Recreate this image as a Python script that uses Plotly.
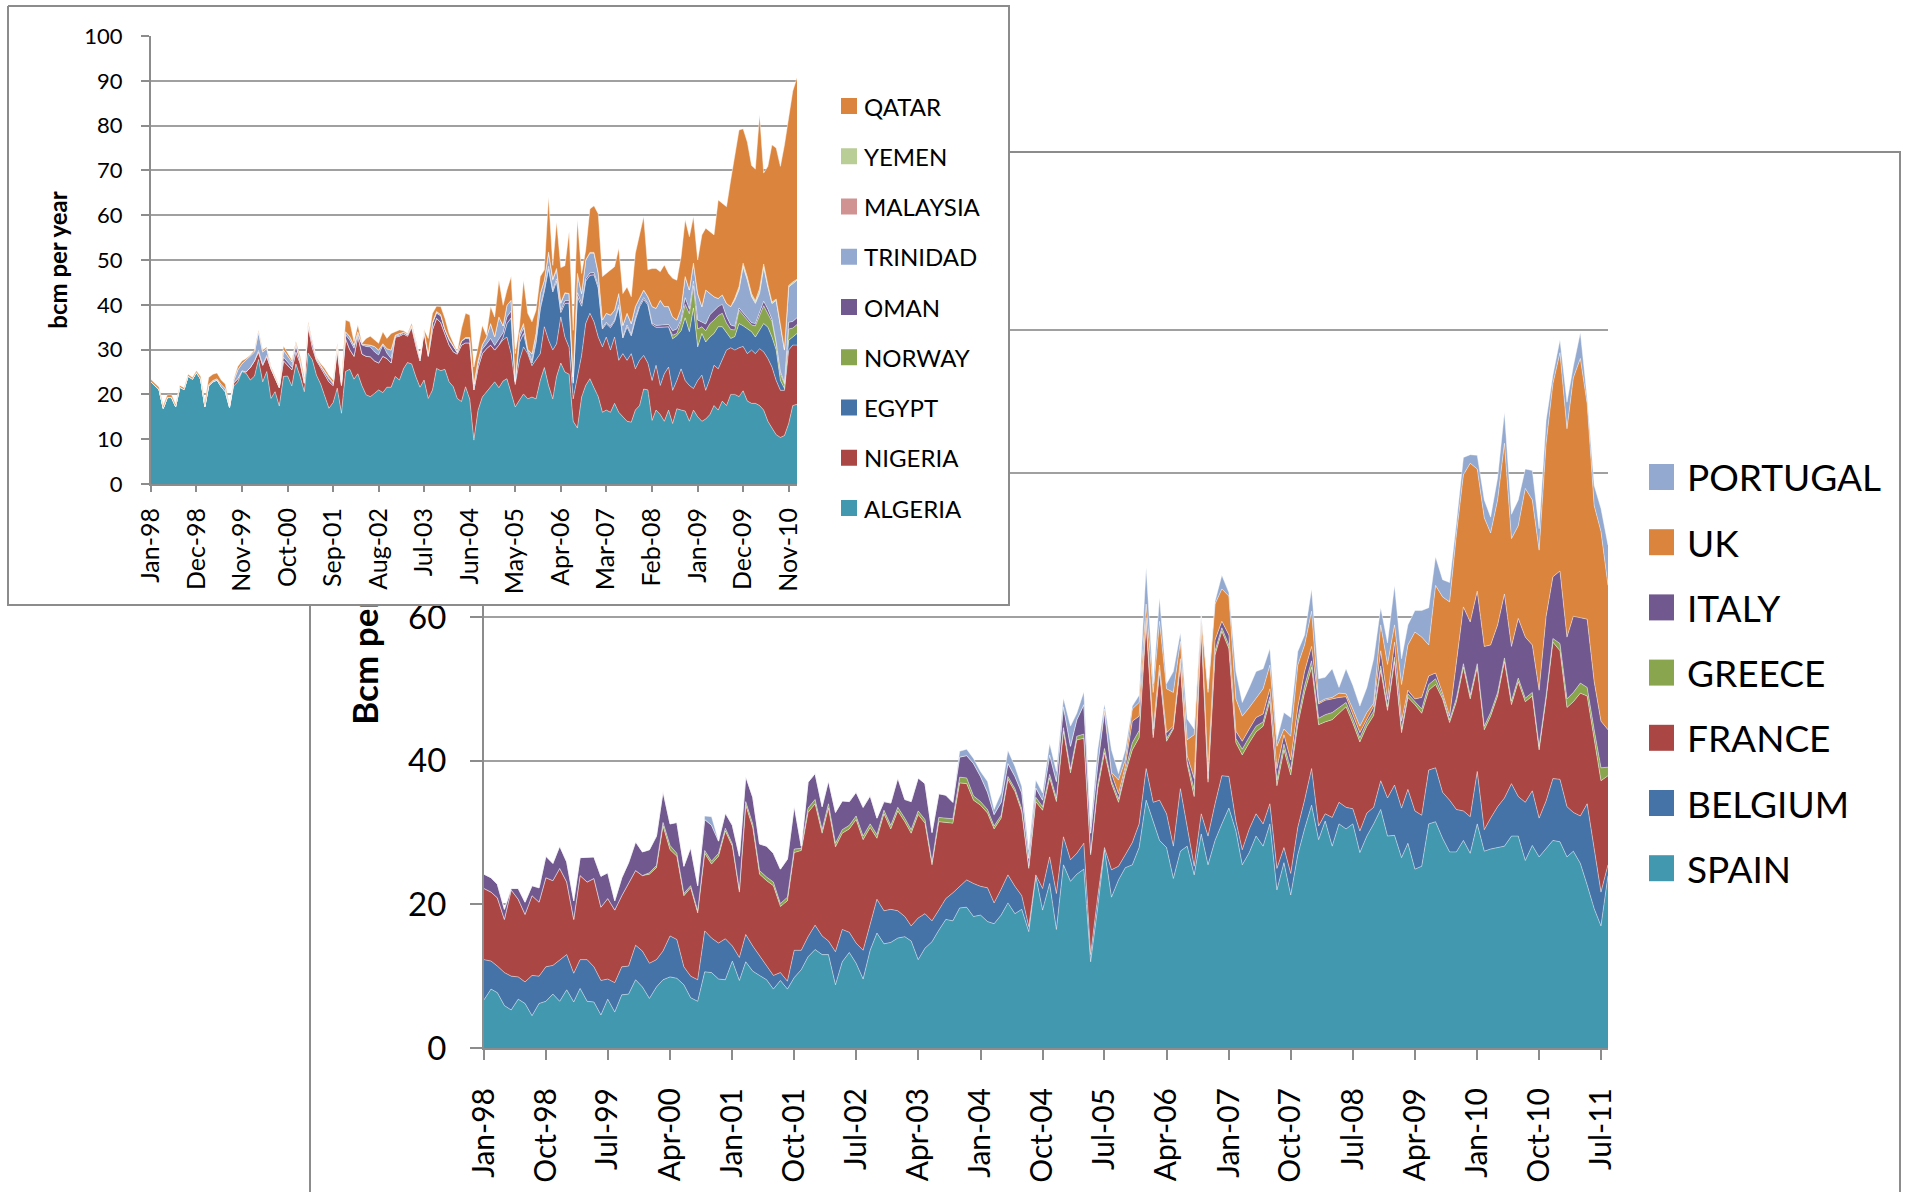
import pandas as pd
import plotly.graph_objects as go

W, H = 1906, 1192

# ---------------------------------------------------------------------------
# Main chart: LNG imports by European country, bcm per year (monthly, Jan-98 .. Aug-11)
# ---------------------------------------------------------------------------
months_eu = pd.date_range("1998-01-01", periods=164, freq="MS")

spain = [6.7, 8.2, 7.7, 5.9, 5.3, 6.8, 6.2, 4.5, 6.2, 6.5,
         7.5, 6.5, 8.1, 6.4, 8.3, 6.5, 6.4, 4.6, 6.8, 5.0,
         7.4, 7.5, 9.5, 8.5, 6.9, 8.5, 9.5, 9.9, 9.7, 8.8,
         7.0, 6.5, 10.6, 10.5, 9.6, 9.5, 12.1, 9.4, 12.0, 10.7,
         10.1, 9.5, 8.2, 9.4, 8.2, 9.8, 10.9, 12.7, 13.7, 13.0,
         13.0, 8.8, 12.0, 13.3, 11.8, 9.6, 13.6, 16.0, 14.5, 14.7,
         15.3, 15.5, 14.9, 12.3, 13.9, 14.8, 16.4, 17.9, 17.7, 19.5,
         19.6, 18.3, 18.5, 17.6, 17.3, 18.5, 20.2, 18.7, 19.3, 16.2,
         23.9, 19.2, 22.9, 16.5, 25.5, 23.2, 24.2, 24.9, 12.0, 19.5,
         27.6, 21.0, 23.4, 25.1, 25.5, 27.9, 34.5, 31.6, 28.9, 27.9,
         23.6, 27.4, 28.1, 24.1, 29.8, 25.5, 28.9, 31.2, 33.4, 30.2,
         25.5, 27.2, 29.5, 28.1, 31.2, 22.0, 25.8, 21.3, 26.9, 30.5,
         33.8, 29.0, 31.6, 28.1, 31.2, 30.5, 31.2, 27.2, 29.5, 31.2,
         33.2, 29.5, 29.6, 26.5, 28.5, 24.9, 25.3, 31.2, 31.5, 29.2,
         27.3, 27.3, 28.9, 27.1, 31.2, 27.4, 27.7, 27.9, 28.1, 29.5,
         29.5, 26.1, 28.2, 26.6, 27.7, 28.9, 28.7, 26.6, 27.4, 25.7,
         22.7, 19.4, 17.0, 24.0]

belgium = [5.6, 3.9, 3.7, 4.6, 4.7, 3.1, 3.0, 5.6, 3.8, 4.8,
           4.0, 5.8, 4.9, 4.0, 4.0, 5.8, 4.9, 4.8, 2.8, 4.1,
           3.9, 3.9, 4.8, 5.0, 4.9, 3.8, 4.0, 5.7, 5.4, 2.5,
           3.0, 3.0, 5.7, 4.8, 5.0, 5.7, 2.1, 3.2, 3.8, 3.5,
           2.7, 1.9, 1.9, 1.1, 1.1, 3.8, 2.7, 2.8, 3.4, 2.6,
           1.9, 4.6, 4.5, 2.8, 2.8, 4.0, 3.5, 4.7, 4.6, 4.6,
           3.8, 2.8, 2.1, 5.8, 4.8, 2.9, 2.8, 2.9, 3.9, 3.0,
           3.8, 4.6, 4.0, 4.7, 2.9, 3.6, 3.9, 3.8, 1.9, 0.7,
           0.2, 3.0, 3.7, 5.0, 3.9, 3.0, 2.9, 3.6, 1.0, 1.5,
           0.3, 3.8, 1.9, 1.8, 3.1, 3.3, 4.4, 2.6, 5.6, 4.7,
           4.5, 8.7, 2.6, 1.2, 2.8, 4.0, 5.1, 6.7, 4.4, 1.4,
           2.1, 3.3, 3.1, 3.1, 2.8, 3.0, 2.1, 3.0, 3.8, 4.0,
           5.1, 1.9, 1.0, 4.0, 3.0, 3.0, 2.1, 3.0, 3.2, 2.3,
           4.0, 5.3, 7.0, 6.9, 7.5, 8.1, 7.1, 7.5, 7.5, 6.4,
           7.2, 5.9, 4.1, 5.1, 7.3, 3.0, 4.3, 5.7, 6.7, 7.3,
           5.5, 8.1, 7.6, 5.4, 6.7, 8.6, 8.7, 7.0, 5.4, 6.6,
           11.3, 8.3, 4.7, 1.5]

france = [9.9, 9.6, 9.5, 7.4, 12.0, 10.8, 9.4, 11.1, 10.3, 12.4,
          11.8, 12.7, 10.1, 7.5, 11.7, 10.8, 12.3, 10.2, 11.2, 10.1,
          9.9, 11.6, 10.4, 10.5, 12.4, 12.8, 17.4, 12.0, 11.6, 9.9,
          12.3, 9.3, 10.8, 10.3, 12.1, 15.0, 13.9, 9.1, 18.0, 16.5,
          11.4, 11.9, 12.5, 9.2, 11.2, 13.6, 13.9, 17.3, 16.9, 14.3,
          18.5, 14.6, 13.4, 14.4, 17.2, 15.4, 13.6, 8.5, 13.5, 11.2,
          13.9, 13.2, 12.9, 14.4, 12.6, 7.8, 12.3, 10.6, 9.7, 14.4,
          13.4, 11.6, 11.3, 10.4, 10.3, 9.9, 13.3, 13.2, 11.7, 8.1,
          10.2, 10.9, 11.0, 12.8, 14.7, 12.1, 15.8, 14.6, 13.9, 15.0,
          13.2, 12.0, 8.9, 11.3, 12.9, 12.0, 20.5, 9.0, 17.9, 10.1,
          16.3, 17.2, 8.8, 9.7, 25.9, 7.5, 20.7, 20.1, 17.8, 10.9,
          13.2, 12.0, 11.4, 13.6, 14.3, 11.5, 13.6, 13.7, 14.3, 15.0,
          14.1, 14.1, 12.8, 13.6, 12.4, 14.0, 11.9, 12.4, 12.1, 12.8,
          15.4, 12.2, 17.2, 10.5, 12.8, 14.8, 14.2, 11.1, 11.6, 13.0,
          10.8, 15.0, 20.0, 16.4, 14.5, 13.9, 14.2, 15.4, 19.0, 11.0,
          16.0, 14.0, 13.2, 9.5, 14.2, 19.0, 17.9, 13.8, 15.4, 17.1,
          15.0, 15.4, 15.5, 12.4]

greece = [0.0, 0.0, 0.0, 0.0, 0.0, 0.0, 0.0, 0.0, 0.0, 0.0,
          0.0, 0.0, 0.0, 0.0, 0.0, 0.0, 0.0, 0.0, 0.0, 0.0,
          0.0, 0.0, 0.0, 0.0, 0.2, 0.3, 0.5, 0.6, 0.4, 0.3,
          0.3, 0.3, 0.4, 0.4, 0.4, 0.4, 0.3, 0.3, 0.5, 0.5,
          0.5, 0.5, 0.5, 0.4, 0.5, 0.5, 0.3, 0.6, 0.6, 0.5,
          0.6, 0.5, 0.5, 0.5, 0.5, 0.5, 0.5, 0.5, 0.5, 0.5,
          0.5, 0.5, 0.5, 0.5, 0.5, 0.4, 0.6, 0.6, 0.6, 0.8,
          0.8, 0.6, 0.5, 0.5, 0.4, 0.4, 0.4, 0.4, 0.4, 0.3,
          0.6, 0.5, 0.5, 0.5, 0.5, 0.5, 0.5, 0.6, 0.3, 0.6,
          0.6, 0.4, 0.5, 0.5, 1.0, 1.0, 0.2, 0.4, 0.3, 0.4,
          0.2, 0.4, 0.4, 1.0, 0.5, 0.5, 0.6, 0.5, 0.5, 0.6,
          0.8, 0.8, 0.8, 0.6, 0.6, 0.8, 0.8, 0.8, 0.8, 0.9,
          0.9, 0.9, 1.0, 1.0, 0.8, 0.6, 0.6, 0.6, 0.6, 0.6,
          0.6, 0.5, 0.6, 0.5, 0.5, 0.5, 0.6, 0.8, 0.8, 0.4,
          0.4, 0.5, 0.5, 0.5, 0.5, 0.5, 0.5, 0.5, 0.5, 0.5,
          0.5, 0.5, 0.5, 0.5, 0.5, 0.5, 1.0, 1.2, 1.3, 1.4,
          1.2, 1.2, 1.8, 1.2]

italy = [2.0, 2.0, 1.9, 1.4, 0.2, 1.5, 1.7, 1.4, 2.0, 3.0,
         2.4, 3.1, 2.8, 2.6, 2.5, 3.4, 3.0, 4.3, 3.6, 1.3,
         2.5, 2.8, 4.0, 3.3, 3.2, 4.1, 4.3, 3.0, 4.3, 3.8,
         5.3, 3.5, 4.3, 5.0, 1.7, 2.1, 2.6, 4.7, 3.5, 3.7,
         3.7, 4.3, 4.0, 4.8, 5.3, 6.0, 0.3, 3.6, 3.6, 3.2,
         3.2, 4.3, 4.0, 3.3, 3.3, 4.0, 3.9, 2.3, 1.2, 3.1,
         4.1, 2.6, 3.9, 4.6, 5.0, 4.1, 3.3, 3.2, 2.3, 2.8,
         3.1, 4.5, 3.5, 2.4, 1.6, 1.8, 1.8, 1.7, 2.2, 1.1,
         1.3, 0.9, 2.7, 2.3, 2.9, 3.2, 2.3, 4.1, 2.7, 2.7,
         5.0, 1.0, 0.7, 0.5, 3.0, 2.0, 0.3, 0.8, 0.6, 0.8,
         0.2, 0.5, 0.8, 1.5, 0.8, 1.0, 1.5, 0.9, 1.4, 1.0,
         1.1, 1.1, 1.2, 1.1, 1.1, 1.6, 1.3, 1.3, 1.6, 2.0,
         2.0, 2.0, 2.0, 1.9, 1.4, 0.8, 0.7, 0.7, 0.4, 0.7,
         2.1, 1.0, 2.1, 1.1, 0.5, 0.3, 1.6, 1.2, 0.8, 0.4,
         0.5, 4.7, 7.9, 10.2, 10.1, 11.1, 9.4, 9.4, 8.9, 7.6,
         8.3, 8.5, 6.6, 7.8, 11.0, 8.6, 10.1, 8.6, 10.6, 9.1,
         9.5, 6.7, 6.5, 5.2]

uk = [0.0, 0.0, 0.0, 0.0, 0.0, 0.0, 0.0, 0.0, 0.0, 0.0,
      0.0, 0.0, 0.0, 0.0, 0.0, 0.0, 0.0, 0.0, 0.0, 0.0,
      0.0, 0.0, 0.0, 0.0, 0.0, 0.0, 0.0, 0.0, 0.0, 0.0,
      0.0, 0.0, 0.0, 0.0, 0.0, 0.0, 0.0, 0.0, 0.0, 0.0,
      0.0, 0.0, 0.0, 0.0, 0.0, 0.0, 0.0, 0.0, 0.0, 0.0,
      0.0, 0.0, 0.0, 0.0, 0.0, 0.0, 0.0, 0.0, 0.0, 0.0,
      0.0, 0.0, 0.0, 0.0, 0.0, 0.0, 0.0, 0.0, 0.0, 0.0,
      0.0, 0.0, 0.0, 0.0, 0.0, 0.0, 0.0, 0.0, 0.0, 0.0,
      0.0, 0.0, 0.0, 0.0, 0.0, 0.0, 0.0, 0.0, 0.0, 0.0,
      0.5, 0.2, 1.9, 0.9, 1.7, 1.9, 1.9, 5.1, 6.1, 6.1,
      4.7, 2.4, 2.2, 6.1, 0.3, 11.0, 5.0, 4.5, 5.4, 4.5,
      3.5, 3.0, 2.6, 3.5, 3.3, 3.1, 0.8, 3.3, 5.9, 3.7,
      4.9, 0.2, 0.2, 0.2, 0.6, 0.4, 0.7, 0.9, 0.9, 0.4,
      3.6, 4.9, 2.4, 5.1, 6.3, 9.3, 8.4, 4.3, 12.2, 13.4,
      15.9, 18.1, 18.4, 22.1, 17.0, 17.9, 15.6, 17.4, 21.0, 15.0,
      12.9, 20.7, 20.2, 19.5, 24.1, 26.9, 30.4, 29.0, 33.2, 36.1,
      30.0, 24.5, 26.4, 20.1]

portugal = [0.0, 0.0, 0.0, 0.0, 0.0, 0.0, 0.0, 0.0, 0.0, 0.0,
            0.0, 0.0, 0.0, 0.0, 0.0, 0.0, 0.0, 0.0, 0.0, 0.0,
            0.0, 0.0, 0.0, 0.0, 0.0, 0.0, 0.0, 0.0, 0.0, 0.0,
            0.0, 0.0, 0.5, 1.2, 0.0, 0.0, 0.0, 0.0, 0.0, 0.0,
            0.0, 0.0, 0.0, 0.0, 0.0, 0.0, 0.0, 0.0, 0.0, 0.0,
            0.0, 0.0, 0.0, 0.0, 0.0, 0.0, 0.0, 0.0, 0.0, 0.0,
            0.0, 0.0, 0.0, 0.0, 0.0, 0.0, 0.0, 0.0, 0.0, 0.8,
            0.9, 0.7, 0.7, 1.5, 0.7, 1.3, 1.8, 1.4, 0.9, 1.2,
            1.1, 1.0, 1.6, 1.4, 1.2, 2.8, 0.9, 1.8, 0.9, 2.2,
            0.7, 3.1, 0.9, 1.4, 0.4, 1.0, 5.1, 1.2, 3.3, 0.7,
            2.9, 1.2, 2.9, 0.8, 0.3, 0.5, 0.4, 1.9, 0.5, 3.8,
            1.9, 2.8, 3.8, 2.8, 2.3, 0.9, 2.3, 2.6, 1.9, 1.4,
            3.1, 3.3, 3.0, 4.0, 0.8, 3.5, 3.3, 2.8, 3.5, 6.2,
            2.4, 3.0, 5.5, 3.6, 2.8, 3.0, 3.7, 5.2, 4.0, 2.4,
            2.7, 1.6, 2.4, 1.2, 1.9, 2.5, 2.2, 3.1, 4.3, 3.4,
            3.6, 2.7, 4.1, 3.0, 3.2, 1.2, 1.8, 3.7, 1.6, 3.6,
            0.8, 2.8, 3.2, 5.6]

# ---------------------------------------------------------------------------
# Inset: LNG supply to Europe by exporting country (monthly, Jan-98 .. Jan-11)
# ---------------------------------------------------------------------------
months_src = pd.date_range("1998-01-01", periods=157, freq="MS")

algeria = [22.8, 21.9, 21.1, 16.9, 19.3, 19.3, 17.3, 21.6, 21.1, 24.1,
           23.4, 24.9, 23.4, 17.3, 21.9, 22.8, 23.2, 21.7, 20.6, 17.1,
           21.9, 22.8, 25.1, 24.7, 23.2, 24.1, 27.8, 22.8, 25.1, 19.1,
           20.6, 17.4, 24.0, 24.1, 21.9, 26.8, 24.0, 20.6, 29.2, 27.7,
           24.3, 22.3, 19.5, 16.9, 18.2, 21.4, 15.8, 25.1, 25.6, 23.4,
           24.6, 21.9, 19.9, 19.5, 20.2, 21.0, 20.4, 21.6, 21.6, 24.0,
           23.2, 25.8, 27.1, 26.8, 24.0, 21.6, 23.2, 19.1, 21.0, 25.8,
           25.3, 25.6, 22.8, 21.7, 19.1, 18.4, 21.7, 18.9, 9.8, 16.5,
           19.4, 20.5, 21.6, 22.8, 21.5, 23.0, 23.5, 20.1, 17.2, 18.7,
           20.1, 19.0, 19.4, 19.0, 23.1, 26.0, 22.0, 19.0, 24.0, 27.0,
           25.0, 24.5, 14.0, 12.5, 19.4, 22.0, 23.5, 21.5, 19.5, 16.0,
           16.5, 16.0, 18.0, 16.0, 15.0, 14.0, 13.8, 16.5, 17.5, 21.2,
           21.0, 14.2, 16.5, 15.5, 14.0, 16.5, 13.5, 16.8, 16.5, 16.3,
           14.0, 16.5, 15.0, 14.0, 14.5, 15.5, 17.5, 16.5, 18.5, 17.5,
           20.0, 20.0, 19.5, 20.8, 18.5, 18.0, 18.0, 17.5, 16.5, 14.0,
           12.5, 11.0, 10.4, 10.8, 13.5, 17.5, 17.8]

nigeria = [0.0, 0.0, 0.0, 0.0, 0.0, 0.0, 0.0, 0.0, 0.0, 0.0,
           0.0, 0.0, 0.0, 0.0, 0.0, 0.0, 0.0, 0.0, 0.0, 0.0,
           0.7, 0.7, 0.2, 0.3, 2.8, 3.4, 1.7, 3.7, 3.4, 6.6,
           2.9, 4.1, 3.5, 2.4, 3.6, 2.7, 3.0, 1.9, 6.0, 2.8,
           3.3, 3.7, 5.0, 5.9, 3.8, 8.6, 6.2, 7.4, 4.4, 5.1,
           8.4, 7.1, 8.6, 8.9, 7.3, 6.0, 8.1, 6.4, 5.4, 8.8,
           9.8, 7.7, 5.9, 8.2, 7.0, 5.9, 10.8, 9.4, 13.5, 11.2,
           10.7, 7.9, 8.2, 7.8, 9.9, 12.6, 9.8, 12.6, 11.2, 9.5,
           9.7, 9.7, 9.4, 7.1, 9.5, 9.2, 9.3, 9.0, 5.0, 8.9,
           10.5, 10.1, 7.0, 8.6, 6.0, 9.1, 10.1, 10.9, 7.3, 10.3,
           7.8, 6.0, 5.0, 11.4, 9.3, 13.8, 14.6, 14.7, 13.3, 14.6,
           16.3, 13.9, 14.8, 11.6, 14.1, 13.6, 15.3, 9.2, 10.1, 7.5,
           6.0, 8.9, 10.0, 6.5, 10.6, 9.6, 7.4, 6.3, 9.2, 6.8,
           8.0, 4.8, 8.1, 10.3, 6.4, 8.0, 9.0, 9.2, 9.1, 12.4,
           10.4, 9.9, 10.9, 9.9, 10.6, 11.9, 11.1, 12.7, 13.0, 14.0,
           13.6, 12.1, 10.5, 10.1, 16.4, 13.5, 13.2]

egypt = [0.0, 0.0, 0.0, 0.0, 0.0, 0.0, 0.0, 0.0, 0.0, 0.0,
         0.0, 0.0, 0.0, 0.0, 0.0, 0.0, 0.0, 0.0, 0.0, 0.0,
         0.0, 0.0, 0.0, 0.0, 0.0, 0.0, 0.0, 0.0, 0.0, 0.0,
         0.0, 0.0, 0.0, 0.0, 0.0, 0.0, 0.0, 0.0, 0.0, 0.0,
         0.0, 0.0, 0.0, 0.0, 0.0, 0.0, 0.0, 0.0, 0.0, 0.0,
         0.0, 0.0, 0.0, 0.0, 0.0, 0.0, 0.0, 0.0, 0.0, 0.0,
         0.0, 0.0, 0.0, 0.0, 0.0, 0.0, 0.0, 0.0, 0.0, 0.0,
         0.0, 0.0, 0.0, 0.0, 0.0, 0.0, 0.0, 0.0, 0.0, 0.0,
         0.0, 0.0, 0.0, 0.0, 0.0, 0.6, 3.0, 8.0, 0.5, 4.0,
         3.0, 0.5, 0.6, 4.0, 10.0, 8.0, 16.0, 13.0, 14.0, 1.0,
         7.5, 9.9, 3.5, 18.0, 11.0, 9.5, 8.5, 10.5, 11.0, 4.0,
         3.0, 5.0, 3.5, 12.0, 3.5, 7.5, 4.0, 11.0, 12.0, 12.5,
         13.0, 12.5, 8.5, 13.0, 10.5, 9.0, 11.5, 10.0, 8.5, 14.0,
         12.0, 18.0, 7.5, 9.3, 10.8, 9.3, 7.1, 9.4, 7.5, 4.0,
         2.1, 3.0, 5.4, 4.6, 5.6, 4.1, 3.7, 4.1, 6.3, 7.0,
         6.7, 6.8, 2.2, 0.4, 2.2, 1.8, 2.6]

norway = [0.0, 0.0, 0.0, 0.0, 0.0, 0.0, 0.0, 0.0, 0.0, 0.0,
          0.0, 0.0, 0.0, 0.0, 0.0, 0.0, 0.0, 0.0, 0.0, 0.0,
          0.0, 0.0, 0.0, 0.0, 0.0, 0.0, 0.0, 0.0, 0.0, 0.0,
          0.0, 0.0, 0.0, 0.0, 0.0, 0.0, 0.0, 0.0, 0.0, 0.0,
          0.0, 0.0, 0.0, 0.0, 0.0, 0.0, 0.0, 0.0, 0.0, 0.0,
          0.0, 0.0, 0.0, 0.0, 0.0, 0.0, 0.0, 0.0, 0.0, 0.0,
          0.0, 0.0, 0.0, 0.0, 0.0, 0.0, 0.0, 0.0, 0.0, 0.0,
          0.0, 0.0, 0.0, 0.0, 0.0, 0.0, 0.0, 0.0, 0.0, 0.0,
          0.0, 0.0, 0.0, 0.0, 0.0, 0.0, 0.0, 0.0, 0.0, 0.0,
          0.0, 0.0, 0.0, 0.0, 0.0, 0.0, 0.0, 0.0, 0.0, 0.0,
          0.0, 0.0, 0.0, 0.0, 0.0, 0.0, 0.0, 0.0, 0.0, 0.0,
          0.0, 0.0, 0.0, 0.0, 0.0, 0.0, 0.0, 0.0, 0.0, 0.0,
          0.0, 0.0, 0.0, 0.0, 0.0, 0.0, 0.8, 0.5, 2.0, 3.0,
          4.0, 5.0, 4.0, 1.5, 2.5, 3.0, 3.0, 2.5, 3.0, 2.0,
          2.0, 1.5, 3.0, 2.5, 2.0, 1.5, 2.5, 3.5, 4.0, 3.0,
          3.5, 1.5, 1.5, 1.0, 2.5, 2.0, 2.0]

oman = [0.0, 0.0, 0.0, 0.0, 0.0, 0.0, 0.0, 0.0, 0.0, 0.0,
        0.0, 0.0, 0.0, 0.0, 0.0, 0.0, 0.0, 0.0, 0.0, 0.0,
        0.0, 0.0, 0.0, 0.0, 0.0, 0.0, 0.3, 0.2, 0.2, 0.0,
        0.0, 0.0, 0.8, 0.8, 0.6, 1.3, 0.3, 0.3, 0.3, 0.9,
        0.2, 0.3, 0.3, 0.6, 0.3, 0.5, 0.4, 0.8, 2.1, 1.8,
        0.3, 2.0, 2.2, 2.2, 2.0, 1.8, 2.5, 1.2, 1.0, 0.2,
        0.2, 0.3, 0.2, 0.2, 0.7, 0.4, 0.2, 0.3, 1.3, 1.1,
        1.5, 0.9, 1.1, 1.1, 0.3, 0.8, 1.0, 0.9, 0.5, 0.8,
        1.0, 1.0, 1.5, 1.0, 1.5, 1.0, 1.5, 1.5, 0.3, 1.0,
        1.2, 0.3, 0.5, 0.5, 0.5, 0.5, 0.5, 0.4, 0.5, 0.5,
        0.6, 0.6, 0.4, 0.8, 0.6, 0.5, 0.5, 0.5, 0.5, 0.3,
        0.3, 0.3, 0.3, 0.4, 0.3, 0.4, 0.3, 0.4, 0.4, 0.4,
        0.3, 0.3, 0.4, 0.5, 0.5, 0.5, 1.0, 1.0, 0.5, 1.5,
        1.0, 1.0, 2.0, 1.0, 1.5, 2.0, 2.0, 2.0, 2.0, 1.5,
        1.0, 0.8, 0.5, 0.5, 0.5, 0.5, 0.5, 0.5, 1.0, 1.0,
        0.5, 0.3, 0.5, 0.3, 1.5, 1.5, 1.5]

trinidad = [0.0, 0.0, 0.0, 0.0, 0.0, 0.0, 0.0, 0.0, 0.0, 0.0,
            0.0, 0.0, 0.0, 0.0, 0.3, 0.3, 0.3, 0.5, 0.7, 0.2,
            0.5, 2.0, 1.6, 2.7, 2.6, 2.0, 4.2, 2.8, 1.6, 0.3,
            0.3, 0.2, 1.6, 1.3, 1.2, 0.6, 0.4, 0.3, 0.2, 0.3,
            0.3, 0.2, 0.3, 0.4, 0.3, 0.4, 0.3, 0.7, 0.8, 0.7,
            0.7, 0.2, 0.4, 0.4, 1.2, 1.1, 0.3, 1.0, 1.9, 0.2,
            0.4, 0.1, 0.2, 0.2, 0.2, 0.2, 0.1, 0.3, 0.3, 0.4,
            0.3, 0.2, 0.3, 0.2, 0.1, 0.1, 0.2, 0.3, 0.8, 0.8,
            1.0, 1.5, 3.3, 2.0, 4.8, 1.5, 2.6, 2.4, 0.1, 1.0,
            1.0, 0.2, 1.5, 1.5, 2.9, 1.9, 2.9, 2.2, 2.0, 1.5,
            1.6, 1.5, 1.0, 4.3, 2.2, 4.2, 4.4, 4.3, 2.7, 1.7,
            2.0, 2.5, 2.2, 2.5, 2.5, 2.6, 2.4, 2.5, 1.4, 1.7,
            1.5, 3.7, 3.8, 5.5, 4.0, 4.0, 3.1, 2.0, 2.5, 4.7,
            4.3, 4.0, 5.9, 3.5, 7.6, 4.7, 3.2, 1.8, 2.1, 2.9,
            4.1, 5.8, 4.0, 10.2, 8.3, 5.8, 4.5, 4.2, 7.7, 5.0,
            3.5, 9.3, 10.0, 7.3, 7.9, 8.5, 8.4]

malaysia = [0.0, 0.0, 0.0, 0.0, 0.0, 0.0, 0.0, 0.0, 0.0, 0.0,
            0.0, 0.0, 0.0, 0.0, 0.0, 0.0, 0.0, 0.0, 0.0, 0.0,
            0.0, 0.0, 0.0, 0.0, 0.0, 0.0, 0.0, 0.0, 0.0, 0.0,
            0.0, 0.0, 0.0, 0.0, 0.0, 0.0, 0.0, 0.0, 0.0, 0.0,
            0.0, 0.0, 0.0, 0.0, 0.0, 0.0, 0.0, 0.0, 0.0, 0.0,
            0.0, 0.0, 0.0, 0.0, 0.0, 0.0, 0.0, 0.0, 0.0, 0.0,
            0.0, 0.0, 0.0, 0.0, 0.0, 0.0, 0.0, 0.0, 0.0, 0.0,
            0.0, 0.0, 0.0, 0.0, 0.0, 0.0, 0.0, 0.0, 0.0, 0.0,
            0.0, 0.0, 0.0, 0.0, 0.0, 0.0, 0.0, 0.0, 0.0, 0.0,
            0.0, 0.0, 0.0, 0.0, 0.0, 0.0, 0.3, 0.3, 0.3, 0.2,
            0.2, 0.0, 0.0, 0.0, 0.0, 0.0, 0.2, 0.2, 0.2, 0.0,
            0.0, 0.0, 0.0, 0.0, 0.0, 0.0, 0.0, 0.0, 0.0, 0.0,
            0.0, 0.0, 0.0, 0.0, 0.0, 0.0, 0.0, 0.0, 0.0, 0.0,
            0.0, 0.0, 0.0, 0.0, 0.0, 0.0, 0.0, 0.0, 0.0, 0.0,
            0.0, 0.3, 0.3, 0.3, 0.2, 0.2, 0.2, 0.3, 0.0, 0.0,
            0.0, 0.0, 0.0, 0.0, 0.0, 0.0, 0.0]

yemen = [0.0, 0.0, 0.0, 0.0, 0.0, 0.0, 0.0, 0.0, 0.0, 0.0,
         0.0, 0.0, 0.0, 0.0, 0.0, 0.0, 0.0, 0.0, 0.0, 0.0,
         0.0, 0.0, 0.0, 0.0, 0.0, 0.0, 0.0, 0.0, 0.0, 0.0,
         0.0, 0.0, 0.0, 0.0, 0.0, 0.0, 0.0, 0.0, 0.0, 0.0,
         0.0, 0.0, 0.0, 0.0, 0.0, 0.0, 0.0, 0.0, 0.0, 0.0,
         0.0, 0.0, 0.0, 0.0, 0.0, 0.0, 0.0, 0.0, 0.0, 0.0,
         0.0, 0.0, 0.0, 0.0, 0.0, 0.0, 0.0, 0.0, 0.0, 0.0,
         0.0, 0.0, 0.0, 0.0, 0.0, 0.0, 0.0, 0.0, 0.0, 0.0,
         0.0, 0.0, 0.0, 0.0, 0.0, 0.0, 0.0, 0.0, 0.0, 0.0,
         0.0, 0.0, 0.0, 0.0, 0.0, 0.0, 0.0, 0.0, 0.0, 0.0,
         0.0, 0.0, 0.0, 0.0, 0.0, 0.0, 0.0, 0.0, 0.0, 0.0,
         0.0, 0.0, 0.0, 0.0, 0.0, 0.0, 0.0, 0.0, 0.0, 0.0,
         0.0, 0.0, 0.0, 0.0, 0.0, 0.0, 0.0, 0.0, 0.0, 0.0,
         0.0, 0.0, 0.0, 0.0, 0.0, 0.0, 0.0, 0.0, 0.0, 0.0,
         0.0, 0.2, 0.5, 0.5, 0.5, 0.5, 0.4, 0.8, 0.6, 0.5,
         0.3, 0.3, 0.3, 0.2, 0.3, 0.3, 0.2]

qatar = [0.5, 0.4, 0.5, 0.6, 0.6, 0.6, 0.5, 0.4, 0.4, 0.4,
         0.4, 0.4, 0.6, 0.9, 1.6, 1.4, 1.3, 1.0, 1.0, 0.2,
         0.3, 0.7, 0.6, 0.3, 0.2, 0.4, 0.4, 0.4, 0.3, 0.3,
         0.5, 0.2, 0.9, 0.6, 0.4, 0.4, 0.9, 0.8, 0.5, 0.3,
         0.2, 0.4, 0.7, 0.5, 0.6, 0.5, 0.5, 2.6, 3.3, 0.8,
         1.5, 0.2, 1.4, 2.0, 1.4, 1.5, 2.7, 2.3, 3.7, 0.8,
         0.8, 0.3, 0.2, 0.5, 0.2, 0.3, 0.2, 3.4, 2.0, 1.2,
         1.8, 2.4, 1.2, 0.6, 0.1, 2.8, 5.4, 5.0, 3.8, 3.0,
         4.3, 0.5, 3.8, 4.4, 8.2, 4.6, 3.4, 5.3, 6.0, 1.5,
         9.7, 8.0, 7.2, 5.2, 3.8, 2.3, 12.3, 3.0, 10.4, 7.8,
         6.0, 13.8, 10.4, 12.0, 4.5, 2.2, 9.7, 10.4, 13.1, 9.7,
         8.9, 10.1, 9.7, 10.1, 7.1, 5.9, 6.0, 11.9, 14.2, 16.4,
         6.0, 8.5, 8.9, 6.4, 9.3, 7.4, 8.6, 8.9, 11.5, 12.7,
         11.9, 10.4, 7.5, 16.0, 13.8, 13.8, 13.8, 22.0, 20.5, 21.6,
         28.3, 32.1, 34.9, 30.0, 30.1, 28.6, 29.4, 38.8, 20.3, 26.4,
         35.1, 33.7, 35.5, 45.6, 37.8, 42.6, 45.0]

# Series palette
TEAL, BLUE, RED, GREEN = "#4198AF", "#4572A7", "#AA4643", "#89A54E"
PURPLE, ORANGE, LBLUE = "#71588F", "#DB843D", "#93A9CF"
PINK, LGREEN = "#D19392", "#B9CD96"
GRID, AXIS = "#A0A0A0", "#8C8C8C"

eu_series = [("SPAIN", spain, TEAL), ("BELGIUM", belgium, BLUE),
             ("FRANCE", france, RED), ("GREECE", greece, GREEN),
             ("ITALY", italy, PURPLE), ("UK", uk, ORANGE),
             ("PORTUGAL", portugal, LBLUE)]

src_series = [("ALGERIA", algeria, TEAL), ("NIGERIA", nigeria, RED),
              ("EGYPT", egypt, BLUE), ("NORWAY", norway, GREEN),
              ("OMAN", oman, PURPLE), ("TRINIDAD", trinidad, LBLUE),
              ("MALAYSIA", malaysia, PINK), ("YEMEN", yemen, LGREEN),
              ("QATAR", qatar, ORANGE)]


def px_x(x):
    return x / W


def px_y(y):
    return 1 - y / H


EDGE = dict(width=0.8, color="rgba(255,255,255,0.55)")

fig = go.Figure()

# Main stacked areas (subplot xy)
for name, vals, col in eu_series:
    fig.add_trace(go.Scatter(
        x=months_eu, y=vals, name=name, stackgroup="eu", mode="lines",
        line=EDGE, fillcolor=col, xaxis="x", yaxis="y",
        showlegend=False, hoverinfo="skip"))

# Overlay layer in pixel space (subplot x2y2): main y-axis caption, then the
# white inset panel that sits on top of the main chart.
fig.add_trace(go.Bar(
    x=[364], y=[-400], base=[823], width=[90], xaxis="x2", yaxis="y2",
    marker=dict(color="rgba(0,0,0,0)", line=dict(width=0)),
    text=["Bcm per year"], textposition="inside", textangle=-90,
    insidetextanchor="middle", constraintext="none", cliponaxis=False,
    textfont=dict(family="Lato", size=35, color="black", weight="bold"),
    showlegend=False, hoverinfo="skip"))
fig.add_trace(go.Scatter(
    x=[8, 1009, 1009, 8, 8], y=[6, 6, 605, 605, 6], mode="lines",
    fill="toself", fillcolor="white", line=dict(color=AXIS, width=2),
    xaxis="x2", yaxis="y2", showlegend=False, hoverinfo="skip"))

# Inset stacked areas (subplot x3y3)
for name, vals, col in src_series:
    fig.add_trace(go.Scatter(
        x=months_src, y=vals, name=name, stackgroup="src", mode="lines",
        line=EDGE, fillcolor=col, xaxis="x3", yaxis="y3",
        showlegend=False, hoverinfo="skip"))

shapes = []
annotations = []

# Outer frame of the main chart (partly hidden by the inset panel)
shapes.append(dict(type="rect", xref="paper", yref="paper", layer="below",
                   x0=px_x(310), x1=px_x(1900), y0=px_y(1230), y1=px_y(152),
                   line=dict(color=AXIS, width=2), fillcolor="rgba(0,0,0,0)"))

# Legends: swatch squares + labels, top entry = top of the stack
for i, (name, _, col) in enumerate(reversed(eu_series)):
    cy = 477 + 65.2 * i
    shapes.append(dict(type="rect", xref="paper", yref="paper", layer="above",
                       x0=px_x(1649), x1=px_x(1674), y0=px_y(cy + 13), y1=px_y(cy - 13),
                       fillcolor=col, line=dict(width=0)))
    annotations.append(dict(text=name, x=px_x(1685), y=px_y(cy), xref="paper", yref="paper",
                            xanchor="left", yanchor="middle", showarrow=False,
                            font=dict(family="Lato", size=37, color="black")))

for i, (name, _, col) in enumerate(reversed(src_series)):
    cy = 106 + 50.25 * i
    shapes.append(dict(type="rect", xref="paper", yref="paper", layer="above",
                       x0=px_x(841), x1=px_x(857), y0=px_y(cy + 8), y1=px_y(cy - 8),
                       fillcolor=col, line=dict(width=0)))
    annotations.append(dict(text=name, x=px_x(862), y=px_y(cy), xref="paper", yref="paper",
                            xanchor="left", yanchor="middle", showarrow=False,
                            font=dict(family="Lato", size=24, color="black")))

fig.update_layout(
    width=W, height=H, autosize=False,
    margin=dict(l=0, r=0, t=0, b=0, pad=0, autoexpand=False),
    paper_bgcolor="white", plot_bgcolor="rgba(0,0,0,0)",
    showlegend=False, hovermode=False,
    shapes=shapes, annotations=annotations,
    xaxis=dict(domain=[px_x(484), px_x(1608)], anchor="y", type="date",
               range=[str(months_eu[0].date()), str(months_eu[-1].date())],
               tickvals=[str(d.date()) for d in months_eu[::9]],
               tickformat="%b-%y", tickangle=-90,
               tickfont=dict(family="Lato", size=30, color="black"),
               ticks="outside", ticklen=10, tickwidth=2, tickcolor=AXIS,
               ticklabelstandoff=16, automargin=False,
               showline=True, linecolor=AXIS, linewidth=2,
               showgrid=False, zeroline=False, fixedrange=True),
    yaxis=dict(domain=[px_y(1048), px_y(186)], anchor="x",
               range=[0, 120], tick0=0, dtick=20,
               tickfont=dict(family="Lato", size=33, color="black"),
               ticks="outside", ticklen=12, tickwidth=2, tickcolor=AXIS,
               ticklabelstandoff=17, automargin=False,
               showline=True, linecolor=AXIS, linewidth=2,
               showgrid=True, gridcolor=GRID, gridwidth=2,
               zeroline=False, fixedrange=True),
    xaxis2=dict(domain=[0, 1], anchor="y2", range=[0, W], visible=False,
                fixedrange=True, automargin=False),
    yaxis2=dict(domain=[0, 1], anchor="x2", range=[H, 0], visible=False,
                fixedrange=True, automargin=False),
    xaxis3=dict(domain=[px_x(151), px_x(797)], anchor="y3", type="date",
                range=[str(months_src[0].date()), str(months_src[-1].date())],
                tickvals=[str(d.date()) for d in months_src[::11]],
                tickformat="%b-%y", tickangle=-90,
                tickfont=dict(family="Lato", size=25, color="black"),
                ticks="outside", ticklen=6, tickwidth=2, tickcolor=AXIS,
                ticklabelstandoff=6, automargin=False,
                showline=True, linecolor=AXIS, linewidth=2,
                showgrid=False, zeroline=False, fixedrange=True),
    yaxis3=dict(domain=[px_y(484), px_y(36)], anchor="x3",
                range=[0, 100], tick0=0, dtick=10,
                tickfont=dict(family="Lato", size=22, color="black"),
                ticks="outside", ticklen=8, tickwidth=2, tickcolor=AXIS,
                ticklabelstandoff=14, automargin=False,
                showline=True, linecolor=AXIS, linewidth=2,
                showgrid=True, gridcolor=GRID, gridwidth=2,
                zeroline=False, fixedrange=True,
                title=dict(text="bcm per year", standoff=10,
                           font=dict(family="Lato", size=24, color="black", weight="bold"))),
)

fig.write_html("out.html", config={"displayModeBar": False, "staticPlot": True})
